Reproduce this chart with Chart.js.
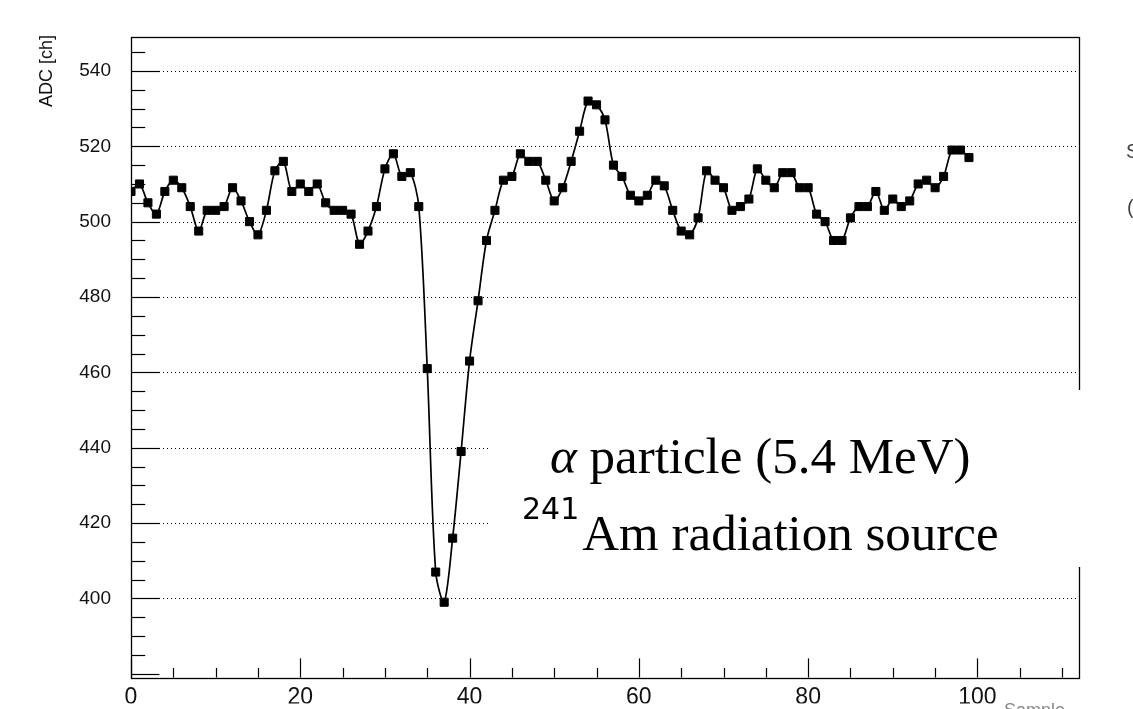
<!DOCTYPE html>
<html>
<head>
<meta charset="utf-8">
<script src="https://cdn.jsdelivr.net/npm/chart.js@4.4.0/dist/chart.umd.min.js"></script>
<style>
  html, body { margin: 0; padding: 0; background: #fff; overflow: hidden; }
</style>
</head>
<body>
<canvas id="myChart" width="1133" height="709"></canvas>
<script>
// ADC samples, one per sample index (0..99)
const adcValues = [
  508, 510, 505, 502, 508, 511, 509, 504, 497.5, 503,
  503, 504, 509, 505.5, 500, 496.5, 503, 513.5, 516, 508,
  510, 508, 510, 505, 503, 503, 502, 494, 497.5, 504,
  514, 518, 512, 513, 504, 461, 407, 399, 416, 439,
  463, 479, 495, 503, 511, 512, 518, 516, 516, 511,
  505.5, 509, 516, 524, 532, 531, 527, 515, 512, 507,
  505.5, 507, 511, 509.5, 503, 497.5, 496.5, 501, 513.5, 511,
  509, 503, 504, 506, 514, 511, 509, 513, 513, 509,
  509, 502, 500, 495, 495, 501, 504, 504, 508, 503,
  506, 504, 505.5, 510, 511, 509, 512, 519, 519, 517
];
const xTickValues = [0, 20, 40, 60, 80, 100];
const yTickValues = [400, 420, 440, 460, 480, 500, 520, 540];
const minorStep = 5;
const yTitle = 'ADC [ch]';
const xTitle = 'Sample';
const noteLine1 = ' particle (5.4 MeV)';
const noteLine2 = 'Am radiation source';

// ROOT-like frame: dotted grid, inward ticks, closed box
const rootFrame = {
  id: 'rootFrame',
  beforeDatasetsDraw(chart) {
    const { ctx, chartArea: a, scales: { y } } = chart;
    ctx.save();
    ctx.strokeStyle = '#000';
    ctx.lineWidth = 1;
    ctx.setLineDash([1, 3]);
    yTickValues.forEach(v => {
      const py = Math.round(y.getPixelForValue(v)) + 0.5;
      ctx.beginPath();
      ctx.moveTo(a.left, py);
      ctx.lineTo(a.right, py);
      ctx.stroke();
    });
    ctx.restore();
  },
  afterDatasetsDraw(chart) {
    const { ctx, chartArea: a, scales: { x, y } } = chart;
    ctx.save();
    ctx.strokeStyle = '#000';
    ctx.lineWidth = 1.3;
    ctx.strokeRect(Math.round(a.left) + 0.5, Math.round(a.top) + 0.5,
                   Math.round(a.right - a.left), Math.round(a.bottom - a.top));
    const yMajor = (a.right - a.left) * 0.03;
    const xMajor = (a.bottom - a.top) * 0.03;
    ctx.lineWidth = 1.2;
    for (let v = Math.ceil(y.min / minorStep) * minorStep; v <= y.max; v += minorStep) {
      const py = Math.round(y.getPixelForValue(v)) + 0.5;
      const len = v % 20 === 0 ? yMajor : yMajor / 2;
      ctx.beginPath();
      ctx.moveTo(a.left, py);
      ctx.lineTo(a.left + len, py);
      ctx.stroke();
    }
    for (let v = Math.ceil(x.min / minorStep) * minorStep; v <= x.max; v += minorStep) {
      const px = Math.round(x.getPixelForValue(v)) + 0.5;
      const len = v % 20 === 0 ? xMajor : xMajor / 2;
      ctx.beginPath();
      ctx.moveTo(px, a.bottom);
      ctx.lineTo(px, a.bottom - len);
      ctx.stroke();
    }
    ctx.restore();
  },
  afterDraw(chart) {
    const { ctx, chartArea: a } = chart;
    ctx.save();
    // axis titles
    ctx.fillStyle = '#111';
    ctx.font = '18px "Liberation Sans"';
    ctx.translate(47, a.top - 2);
    ctx.rotate(-Math.PI / 2);
    ctx.textAlign = 'right';
    ctx.textBaseline = 'middle';
    ctx.fillText(yTitle, 0, 0);
    ctx.restore();

    ctx.save();
    ctx.fillStyle = '#888';
    ctx.font = '18px "Liberation Sans"';
    ctx.textAlign = 'right';
    ctx.textBaseline = 'top';
    ctx.fillText(xTitle, a.right - 14, 702);
    // clipped glyphs of a box beyond the right edge
    ctx.font = '20px "Liberation Sans"';
    ctx.textAlign = 'left';
    ctx.textBaseline = 'alphabetic';
    ctx.fillStyle = '#444';
    ctx.fillText('S', 1126, 158);
    ctx.fillText('(', 1127, 214);
    ctx.restore();

    // annotation box
    ctx.save();
    ctx.fillStyle = '#fff';
    ctx.fillRect(490, 390, 600, 177);
    ctx.fillStyle = '#000';
    ctx.textBaseline = 'alphabetic';
    ctx.textAlign = 'left';
    ctx.font = 'italic 51px "Liberation Serif"';
    ctx.fillText('\u03b1', 550, 473);
    const aw = ctx.measureText('\u03b1').width;
    ctx.font = '51px "Liberation Serif"';
    ctx.fillText(noteLine1, 550 + aw, 473);
    ctx.font = '30px "DejaVu Sans"';
    ctx.fillText('241', 522, 519);
    const sw = ctx.measureText('241').width;
    ctx.font = '51px "Liberation Serif"';
    ctx.fillText(noteLine2, 522 + sw + 3, 550);
    ctx.restore();
  }
};

const config = {
  type: 'scatter',
  data: {
    datasets: [{
      label: 'ADC',
      data: adcValues.map((v, i) => ({ x: i, y: v })),
      showLine: true,
      borderColor: '#000',
      borderWidth: 1.7,
      tension: 0.3,
      pointStyle: 'rect',
      pointRadius: 5.7,
      pointBackgroundColor: '#000',
      pointBorderColor: '#000',
      pointBorderWidth: 1
    }]
  },
  options: {
    responsive: false,
    animation: false,
    events: [],
    layout: { padding: { top: 37, right: 54, left: 0, bottom: 0 } },
    plugins: { legend: { display: false }, tooltip: { enabled: false } },
    scales: {
      x: {
        type: 'linear', min: 0, max: 112,
        grid: { display: false, drawTicks: false },
        border: { display: false },
        afterBuildTicks: s => { s.ticks = xTickValues.map(v => ({ value: v })); },
        afterFit: s => { s.height = 26; },
        ticks: { font: { family: 'Liberation Sans', size: 23 }, color: '#111', maxRotation: 0, padding: 6, autoSkip: false }
      },
      y: {
        type: 'linear', min: 379, max: 549,
        grid: { display: false, drawTicks: false },
        border: { display: false },
        afterBuildTicks: s => { s.ticks = yTickValues.map(v => ({ value: v })); },
        afterFit: s => { s.width = 131; },
        ticks: { font: { family: 'Liberation Sans', size: 19 }, color: '#111', padding: 20, autoSkip: false }
      }
    }
  },
  plugins: [rootFrame]
};

var myChart = new Chart(document.getElementById('myChart'), config);
</script>
</body>
</html>
